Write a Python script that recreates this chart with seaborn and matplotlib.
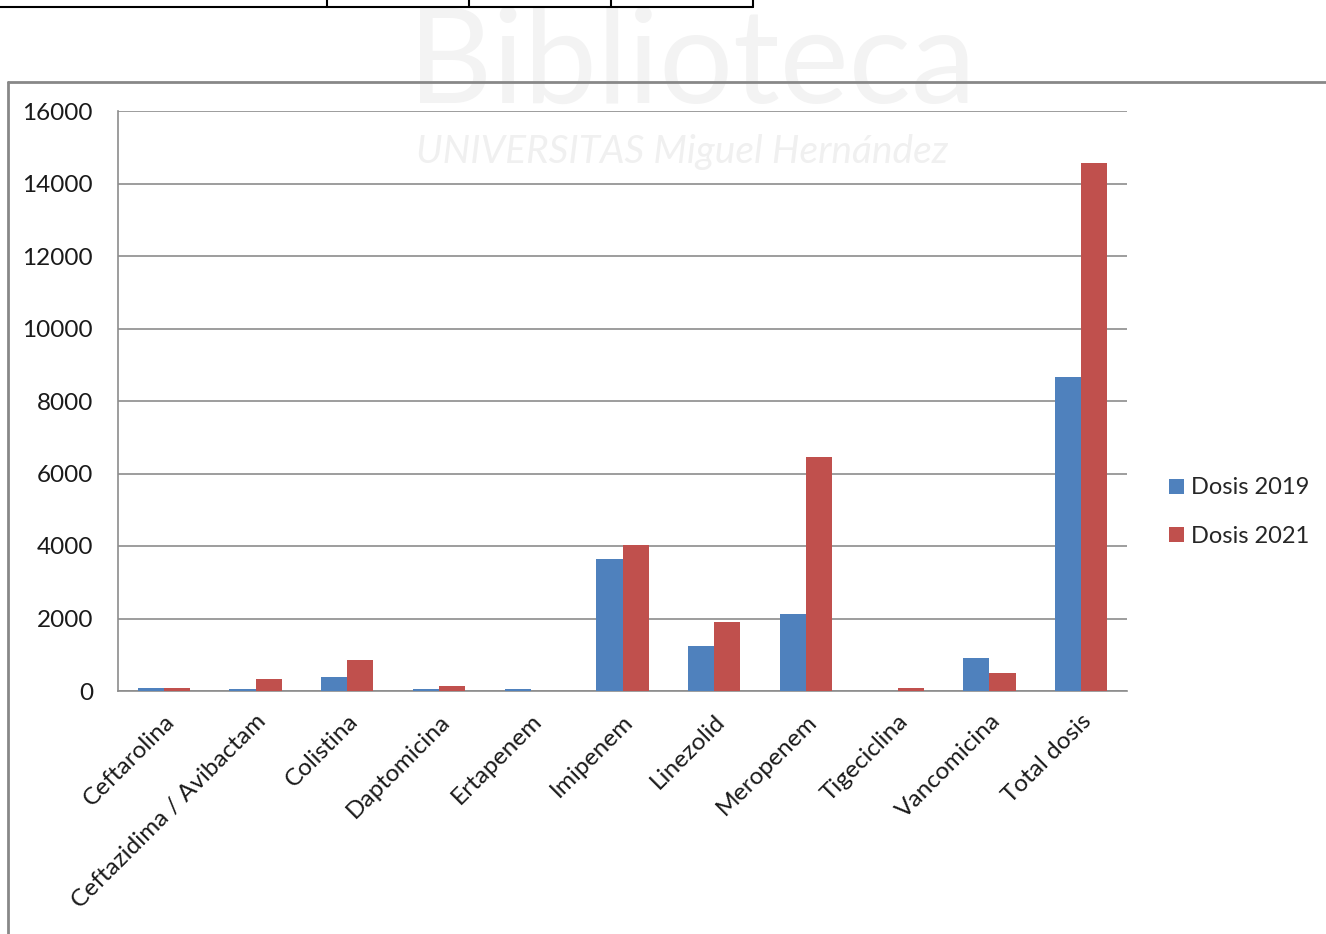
import matplotlib
matplotlib.use("Agg")
import matplotlib.pyplot as plt
import matplotlib.transforms as mtrans
import seaborn as sns
import pandas as pd
import numpy as np
from matplotlib.patches import Patch
from matplotlib.lines import Line2D

categories = ["Ceftarolina", "Ceftazidima / Avibactam", "Colistina", "Daptomicina",
              "Ertapenem", "Imipenem", "Linezolid", "Meropenem", "Tigeciclina",
              "Vancomicina", "Total dosis"]
dosis_2019 = [75, 45, 395, 45, 45, 3640, 1240, 2125, 0, 920, 8670]
dosis_2021 = [75, 320, 855, 145, 0, 4035, 1910, 6455, 75, 505, 14560]
series_names = ["Dosis 2019", "Dosis 2021"]
colors = ["#4F81BD", "#C0504D"]
yticks = [0, 2000, 4000, 6000, 8000, 10000, 12000, 14000, 16000]

df = pd.DataFrame({
    "cat": categories * 2,
    "val": dosis_2019 + dosis_2021,
    "serie": [series_names[0]] * len(categories) + [series_names[1]] * len(categories),
})

sns.set_style("white")
plt.rcParams["font.family"] = ["Lato", "DejaVu Sans"]

W, H = 1326, 934
fig = plt.figure(figsize=(W / 100, H / 100), dpi=100)
fig.patch.set_facecolor("white")

ax = fig.add_axes([118 / W, 1 - 691 / H, (1127 - 118) / W, (691 - 111) / H])
ax.patch.set_alpha(0)

sns.barplot(data=df, x="cat", y="val", hue="serie", palette=colors, width=0.57,
            order=categories, hue_order=series_names, ax=ax, legend=False,
            linewidth=0, saturation=1, zorder=3)

gray = "#8c8c8c"
ax.set_ylim(0, 16000)
ax.set_xlim(-0.5, len(categories) - 0.5)
ax.set_yticks(yticks)
ax.set_yticklabels([str(v) for v in yticks], fontsize=17.5, color="#1a1a1a")
ax.yaxis.grid(True, color=gray, linewidth=1.2, zorder=0)
ax.set_axisbelow(True)
ax.set_xlabel("")
ax.set_ylabel("")

ax.set_xticks(range(len(categories)))
ax.set_xticklabels(categories, rotation=45, ha="right", rotation_mode="anchor",
                   fontsize=17.6, color="#1a1a1a")
offset = mtrans.ScaledTranslation(-11 / 100, 0, fig.dpi_scale_trans)
for lbl in ax.get_xticklabels():
    lbl.set_transform(lbl.get_transform() + offset)
ax.set_xticks(np.arange(-0.5, len(categories), 1.0), minor=True)
ax.tick_params(axis="x", which="major", length=0, pad=14)
ax.tick_params(axis="x", which="minor", length=8, width=1.2, color=gray, direction="out")
ax.tick_params(axis="y", which="major", length=7, width=1.2, color=gray, direction="out", pad=11)
for side in ["top", "right"]:
    ax.spines[side].set_visible(False)
for side in ["left", "bottom"]:
    ax.spines[side].set_visible(True)
    ax.spines[side].set_color(gray)
    ax.spines[side].set_linewidth(1.2)

handles = [Patch(facecolor=c, edgecolor="none", label=n) for c, n in zip(colors, series_names)]
fig.legend(handles=handles, loc="center left", bbox_to_anchor=(1160 / W, 1 - 512 / H),
           frameon=False, fontsize=17, handlelength=0.6, handleheight=0.6,
           handletextpad=0.3, labelspacing=1.15, borderaxespad=0)

# outer chart frame
fig.add_artist(Line2D([8 / W, 1.0], [1 - 82 / H, 1 - 82 / H], color="#888888", linewidth=2, transform=fig.transFigure))
fig.add_artist(Line2D([8 / W, 8 / W], [1 - 82 / H, 0], color="#888888", linewidth=2, transform=fig.transFigure))

# top table fragment
fig.add_artist(Line2D([0, 753 / W], [1 - 7 / H, 1 - 7 / H], color="black", linewidth=1.5, transform=fig.transFigure))
for xv in [327, 469, 611, 753]:
    fig.add_artist(Line2D([xv / W, xv / W], [1, 1 - 7 / H], color="black", linewidth=1.5, transform=fig.transFigure))

# faint watermark
fig.text(692 / W, 1 - 66 / H, "Biblioteca", fontsize=94, color="#f3f3f3", ha="center", va="center", zorder=-5)
fig.text(682 / W, 1 - 152 / H, "UNIVERSITAS Miguel Hernández", fontsize=28, color="#f0f0f0",
         ha="center", va="center", zorder=-5, fontstyle="italic")

fig.savefig("out.png", dpi=100)
